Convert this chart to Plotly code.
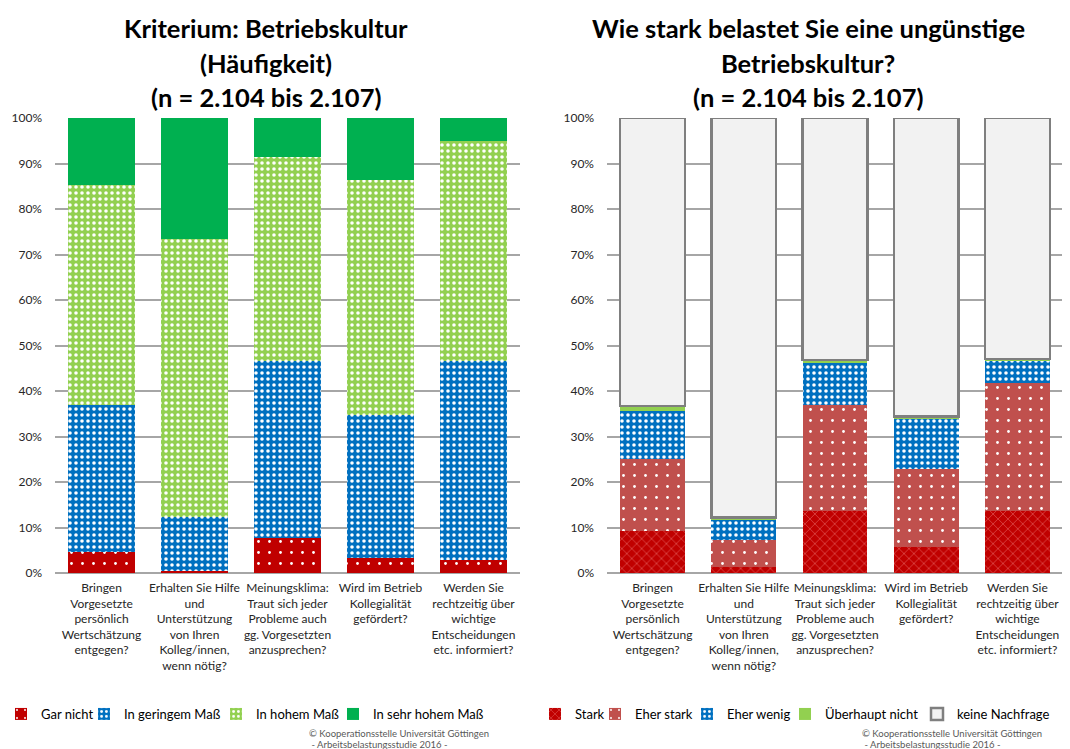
import plotly.graph_objects as go

categories = [
    "Bringen<br>Vorgesetzte<br>persönlich<br>Wertschätzung<br>entgegen?",
    "Erhalten Sie Hilfe<br>und<br>Unterstützung<br>von Ihren<br>Kolleg/innen,<br>wenn nötig?",
    "Meinungsklima:<br>Traut sich jeder<br>Probleme auch<br>gg. Vorgesetzten<br>anzusprechen?",
    "Wird im Betrieb<br>Kollegialität<br>gefördert?",
    "Werden Sie<br>rechtzeitig über<br>wichtige<br>Entscheidungen<br>etc. informiert?",
]

# Left chart: Häufigkeit (%)
gar_nicht = [4.6, 0.4, 7.6, 3.2, 2.8]
in_geringem_mass = [32.3, 12.0, 39.0, 31.5, 43.8]
in_hohem_mass = [48.4, 61.0, 44.8, 51.7, 48.3]
in_sehr_hohem_mass = [14.7, 26.6, 8.6, 13.6, 5.1]

# Right chart: Belastung (%)
stark = [9.3, 1.3, 13.7, 5.8, 13.6]
eher_stark = [15.8, 5.9, 23.2, 17.1, 28.2]
eher_wenig = [10.6, 4.4, 9.3, 10.9, 4.8]
ueberhaupt_nicht = [1.0, 0.6, 0.6, 0.6, 0.4]
keine_nachfrage = [63.3, 87.8, 53.2, 65.6, 53.0]

y_ticks = [0, 10, 20, 30, 40, 50, 60, 70, 80, 90, 100]
y_tick_labels = ["0%", "10%", "20%", "30%", "40%", "50%", "60%", "70%", "80%", "90%", "100%"]

FONT = "Lato"
RED = "#C00000"
BLUE = "#0070C0"
LGREEN = "#92D050"
DGREEN = "#00B050"
ESTARK = "#C0504D"
GREY = "#F2F2F2"

OFF = 8  # page body margin offset

H = 749.0
W = 1070.0


def px(x):
    return (x - OFF) / W


def py(y):
    return 1 - (y - OFF) / H


xpos = list(range(len(categories)))

fig = go.Figure()

legend_font = dict(family=FONT, size=13, color="#000000")
legend_layouts = {}


def add_bar(y, name, color, xaxis, yaxis, legend, text_x, pattern=None, line=None):
    marker = dict(color=color, line=dict(width=0))
    if pattern:
        marker["pattern"] = pattern
    if line:
        marker["line"] = line
    fig.add_trace(go.Bar(x=xpos, y=y, name=name, marker=marker,
                         xaxis=xaxis, yaxis=yaxis, legend=legend))
    legend_layouts[legend] = dict(
        x=px(text_x - 41), y=py(714), xanchor="left", yanchor="middle",
        orientation="h", font=legend_font, itemwidth=30,
        bgcolor="rgba(0,0,0,0)", borderwidth=0,
    )


def dots_dense(bg):
    return dict(shape=".", fgcolor="white", bgcolor=bg, size=6, solidity=0.28, fillmode="replace")


def dots_sparse(bg):
    return dict(shape=".", fgcolor="white", bgcolor=bg, size=11, solidity=0.05, fillmode="replace")


add_bar(gar_nicht, "Gar nicht", RED, "x", "y", "legend", 42, dots_sparse(RED))
add_bar(in_geringem_mass, "In geringem Maß", BLUE, "x", "y", "legend2", 125, dots_dense(BLUE))
add_bar(in_hohem_mass, "In hohem Maß", LGREEN, "x", "y", "legend3", 257, dots_dense(LGREEN))
add_bar(in_sehr_hohem_mass, "In sehr hohem Maß", DGREEN, "x", "y", "legend4", 374)

add_bar(stark, "Stark", RED, "x2", "y2", "legend5", 576,
        dict(shape="x", fgcolor="#D8413F", bgcolor=RED, size=7, solidity=0.25, fillmode="replace"))
add_bar(eher_stark, "Eher stark", ESTARK, "x2", "y2", "legend6", 636, dots_sparse(ESTARK))
add_bar(eher_wenig, "Eher wenig", BLUE, "x2", "y2", "legend7", 728, dots_dense(BLUE))
add_bar(ueberhaupt_nicht, "Überhaupt nicht", LGREEN, "x2", "y2", "legend8", 826)
add_bar(keine_nachfrage, "keine Nachfrage", GREY, "x2", "y2", "legend9", 958,
        line=dict(color="#7F7F7F", width=2.5))

xaxis_common = dict(
    tickmode="array", tickvals=xpos, ticktext=categories, range=[-0.5, 4.5],
    showgrid=False, zeroline=False, showline=False, ticks="", tickangle=0,
    automargin=False, ticklabelstandoff=6,
    tickfont=dict(family=FONT, size=12, color="#262626"), fixedrange=True,
)
yaxis_common = dict(
    range=[0, 100], tickmode="array", tickvals=y_ticks, ticktext=y_tick_labels,
    showgrid=True, gridcolor="#A6A6A6", gridwidth=2, zeroline=True,
    zerolinecolor="#A6A6A6", zerolinewidth=2, showline=False, ticks="",
    automargin=False, ticklabelstandoff=12,
    tickfont=dict(family=FONT, size=12, color="#262626"), fixedrange=True,
)

fig.update_layout(
    width=1070, height=749,
    margin=dict(l=0, r=0, t=0, b=0, autoexpand=False),
    paper_bgcolor="white", plot_bgcolor="white",
    barmode="stack", bargap=0.29,
    font=dict(family=FONT, color="#000000"),
    xaxis=dict(domain=[px(55), px(520)], anchor="y", **xaxis_common),
    yaxis=dict(domain=[py(573), py(118)], anchor="x", **yaxis_common),
    xaxis2=dict(domain=[px(607), px(1063)], anchor="y2", **xaxis_common),
    yaxis2=dict(domain=[py(573), py(118)], anchor="x2", **yaxis_common),
    showlegend=True,
    **legend_layouts,
)

title_font = dict(family=FONT, size=25.5, color="#000000")
left_title = ["Kriterium: Betriebskultur", "(Häufigkeit)", "(n = 2.104 bis 2.107)"]
right_title = ["Wie stark belastet Sie eine ungünstige", "Betriebskultur?", "(n = 2.104 bis 2.107)"]
title_y = [28, 63, 97]
for txt, yy in zip(left_title, title_y):
    fig.add_annotation(text="<b>%s</b>" % txt, x=px(266), y=py(yy), xref="paper", yref="paper",
                       showarrow=False, xanchor="center", yanchor="middle", font=title_font)
for txt, yy in zip(right_title, title_y):
    fig.add_annotation(text="<b>%s</b>" % txt, x=px(808), y=py(yy), xref="paper", yref="paper",
                       showarrow=False, xanchor="center", yanchor="middle", font=title_font)

copy_font = dict(family=FONT, size=9.5, color="#595959")
for xx in (307, 860):
    fig.add_annotation(text="© Kooperationsstelle Universität Göttingen", x=px(xx), y=py(733),
                       xref="paper", yref="paper", showarrow=False, xanchor="left",
                       yanchor="middle", font=copy_font)
    fig.add_annotation(text=" - Arbeitsbelastungsstudie 2016 -", x=px(xx), y=py(744),
                       xref="paper", yref="paper", showarrow=False, xanchor="left",
                       yanchor="middle", font=copy_font)

fig.write_html("out.html")
